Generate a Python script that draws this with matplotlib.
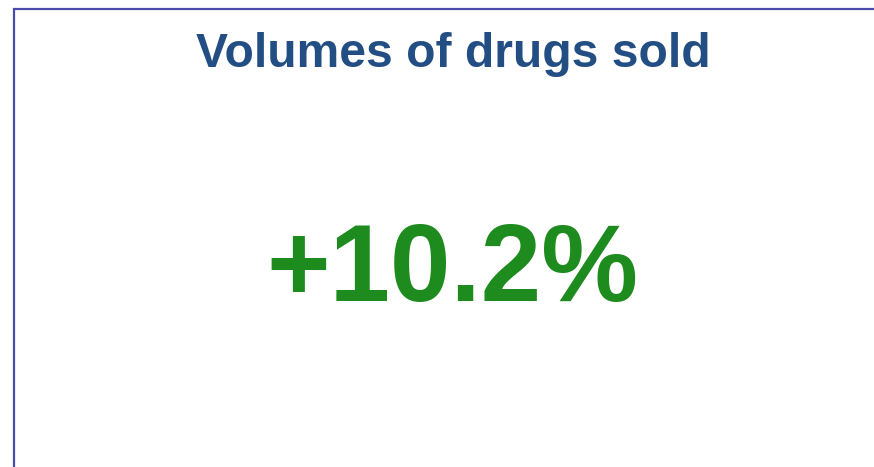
import matplotlib
matplotlib.use("Agg")
import matplotlib.pyplot as plt
from matplotlib.patches import Rectangle

title = "Volumes of drugs sold"
kpi_value = 10.2
kpi_label = f"+{kpi_value:.1f}%"

W, H = 874, 467
fig = plt.figure(figsize=(W / 100, H / 100), dpi=100)
fig.patch.set_facecolor("white")

# card border (extends past right and bottom edges)
fig.patches.append(Rectangle((14.5 / W, -0.1), 1.2, 1 - 9 / H + 0.1,
                             transform=fig.transFigure, fill=False,
                             edgecolor="#4b4bab", linewidth=1.6))

fig.text(453 / W, 1 - 67 / H, title, ha="center", va="baseline",
         fontsize=34.6, fontweight="bold", color="#234e84",
         family="Liberation Sans")
fig.text(452.5 / W, 1 - 300.5 / H, kpi_label, ha="center", va="baseline",
         fontsize=78.3, fontweight="bold", color="#1e8b1e",
         family="Liberation Sans")

fig.savefig("out.png", dpi=100)
